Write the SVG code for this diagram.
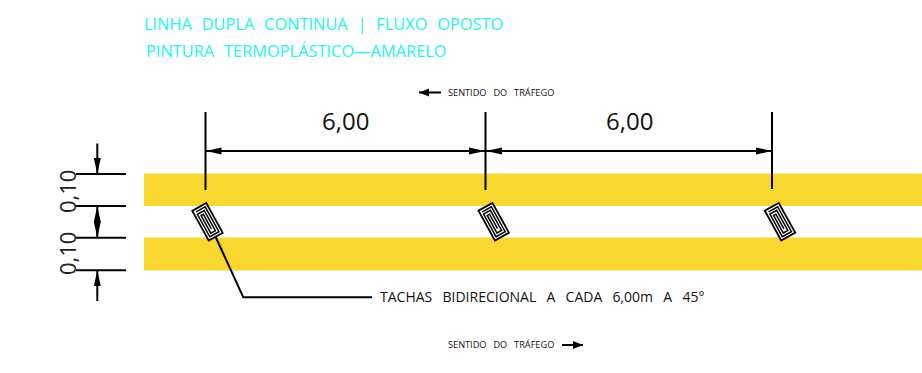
<svg xmlns="http://www.w3.org/2000/svg" xmlns:xlink="http://www.w3.org/1999/xlink" width="922" height="373" viewBox="0 0 922 373">
<style>
text{font-family:"Open Sans","Liberation Sans",sans-serif;}
.t{font-size:16.400px;fill:#22f5f5;word-spacing:5.500px;font-weight:400}
.s{font-size:9.2px;fill:#111;word-spacing:4.500px}
.l{font-size:14px;fill:#111;word-spacing:6.600px}
.d{font-size:24px;fill:#111}
.dv{font-size:22px;fill:#222}
.ln{stroke:#000;stroke-width:2;fill:none}
.bar{fill:#f8d72f}
.tk{fill:#fff;stroke:#000;stroke-width:1.800}
.sp{fill:none;stroke:#000;stroke-width:1.500}
</style>
<defs>
<marker id="a" markerWidth="16" markerHeight="8" refX="16" refY="4" orient="auto-start-reverse" markerUnits="userSpaceOnUse"><path d="M0 0.500L16 4L0 7.500z" fill="#000"/></marker>
<marker id="b" markerWidth="10" markerHeight="9" refX="10" refY="4.500" orient="auto-start-reverse" markerUnits="userSpaceOnUse"><path d="M0 0.500L10 4.500L0 8.500z" fill="#000"/></marker>
<g id="tack">
<rect class="tk" x="-8" y="-17" width="16" height="34"/>
<path class="sp" d="M-5.200 -14.200H5.200V14.200H-5.200V-11.500H2.600V11.500H-2.600V-8.600H0V8"/>
</g>
</defs>
<g id="bars">
<rect class="bar" x="144" y="173.500" width="778" height="32.500"/>
<rect class="bar" x="144" y="237.500" width="778" height="33"/>
</g>
<g id="connectors">
<path class="ln" d="M205.500 112V190M485.500 112V190M772 112V189"/>
<path class="ln" marker-start="url(#a)" marker-end="url(#a)" d="M205.500 151H485"/>
<path class="ln" marker-start="url(#a)" marker-end="url(#a)" d="M486 151H772"/>
<path class="ln" d="M76 174H126M76 206H126M76 237.700H126M76 270.300H126"/>
<path class="ln" marker-end="url(#a)" d="M97.300 143.500V174"/>
<path class="ln" marker-start="url(#a)" marker-end="url(#a)" d="M97.300 206V237.700"/>
<path class="ln" marker-start="url(#a)" d="M97.300 270.300V301"/>
<path class="ln" d="M215.700 237L243.300 297.300H372"/>
<path class="ln" marker-end="url(#b)" d="M441 92.500H419"/>
<path class="ln" marker-end="url(#b)" d="M562 345H583"/>
</g>
<g id="tack1"><use xlink:href="#tack" href="#tack" transform="translate(207.500 221.800) rotate(-29)"/></g>
<g id="tack2"><use xlink:href="#tack" href="#tack" transform="translate(493.700 221.700) rotate(-29)"/></g>
<g id="tack3"><use xlink:href="#tack" href="#tack" transform="translate(780 221.700) rotate(-29)"/></g>
<g id="labels">
<text class="t" x="144" y="30">LINHA DUPLA CONTINUA | FLUXO OPOSTO</text>
<text class="t" x="146" y="57">PINTURA TERMOPLÁSTICO—AMARELO</text>
<text class="s" x="448" y="96">SENTIDO DO TRÁFEGO</text>
<text class="s" x="448" y="348">SENTIDO DO TRÁFEGO</text>
<text class="l" x="380" y="301.500">TACHAS BIDIRECIONAL A CADA 6,00m A 45°</text>
<text class="d" x="322" y="130">6,00</text>
<text class="d" x="606" y="130">6,00</text>
<text class="dv" transform="translate(76 213) rotate(-90)">0,10</text>
<text class="dv" transform="translate(76 275) rotate(-90)">0,10</text>
</g>
</svg>
